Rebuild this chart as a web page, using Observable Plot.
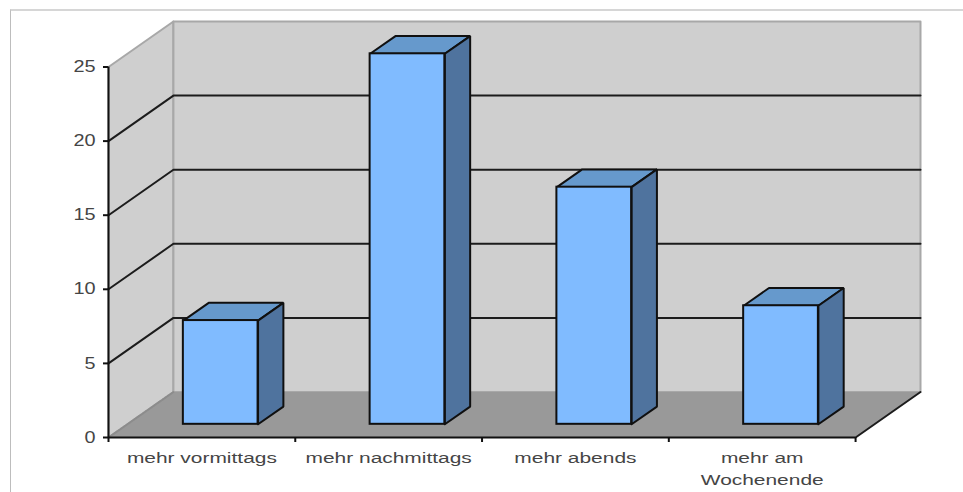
<!DOCTYPE html>
<html lang="de">
<head>
<meta charset="utf-8">
<title>Balkendiagramm</title>
<script src="https://cdn.jsdelivr.net/npm/d3@7"></script>
<script src="https://cdn.jsdelivr.net/npm/@observablehq/plot@0.6"></script>
<style>
  html, body { margin: 0; padding: 0; background: #fff; overflow: hidden; }
  #chart { position: relative; width: 963px; height: 492px; }
  #rahmen { position: absolute; left: 10px; top: 9px; right: 0; bottom: 0;
            border-left: 1px solid #bdbdbd; border-top: 2px solid #d6d6d6; }
  #chart svg { position: absolute; left: 0; top: 0; display: block; background: transparent; }
</style>
</head>
<body>
<div id="chart"><div id="rahmen"></div></div>
<script>
const categories = ["mehr vormittags", "mehr nachmittags", "mehr abends", "mehr am\nWochenende"];
const values = [7, 25, 16, 8];
const yTicks = [0, 5, 10, 15, 20, 25];
const gridValues = [5, 10, 15, 20];
const xBoundaries = [0, 1, 2, 3, 4];

// Oblique depth of the chart box, in data units of each axis
const depthX = 65 / 187;
const depthY = 45.5 / 14.82;
const yMax = 25;
const barHalfWidth = 0.2;
const barDepthFront = 0.29;
const barDepthBack = 0.68;

// Places a point (category position, value, depth 0..1) on the oblique plane
const at = (c, v, d) => ({x: c + d * depthX, y: v + d * depthY});
const poly = (id, corners) => [...corners, corners[0]].map(([c, v, d]) => ({id, ...at(c, v, d)}));

const n = categories.length;
const sideWall = poly("wand", [[0, 0, 0], [0, yMax, 0], [0, yMax, 1], [0, 0, 1]]);
const backWall = poly("rueckwand", [[0, 0, 1], [0, yMax, 1], [n, yMax, 1], [n, 0, 1]]);
const floor = poly("boden", [[0, 0, 0], [0, 0, 1], [n, 0, 1], [n, 0, 0]]);

const gridLines = gridValues.flatMap((v) => [
  {id: v, ...at(0, v, 0)}, {id: v, ...at(0, v, 1)}, {id: v, ...at(n, v, 1)}
]);

const bars = values.map((v, i) => ({
  left: i + 0.5 - barHalfWidth,
  right: i + 0.5 + barHalfWidth,
  v
}));
const tops = bars.flatMap((b, i) => poly(i, [
  [b.left, b.v, barDepthFront], [b.left, b.v, barDepthBack],
  [b.right, b.v, barDepthBack], [b.right, b.v, barDepthFront]
]));
const sides = bars.flatMap((b, i) => poly(i, [
  [b.right, 0, barDepthFront], [b.right, b.v, barDepthFront],
  [b.right, b.v, barDepthBack], [b.right, 0, barDepthBack]
]));
const fronts = bars.map((b) => {
  const p = at(b.left, 0, barDepthFront);
  const q = at(b.right, b.v, barDepthFront);
  return {x1: p.x, x2: q.x, y1: p.y, y2: q.y};
});

const wallStyle = {x: "x", y: "y", z: "id", curve: "linear", fill: "#cfcfcf", stroke: "#a8a8a8", strokeWidth: 2};
const barStroke = {stroke: "#101010", strokeWidth: 2, strokeLinejoin: "miter"};
const textColor = "#454545";

const chart = Plot.plot({
  width: 963,
  height: 492,
  marginLeft: 108,
  marginRight: 43,
  marginTop: 21,
  marginBottom: 55,
  style: {fontFamily: "'Liberation Sans', Arial, sans-serif", background: "transparent"},
  x: {domain: [0, n + depthX], axis: null},
  y: {domain: [0, yMax + depthY], axis: null},
  marks: [
    Plot.line(sideWall, wallStyle),
    Plot.line(backWall, wallStyle),
    Plot.line(floor, {x: "x", y: "y", z: "id", curve: "linear", fill: "#999999", stroke: "none"}),
    // Dashed-looking seam between side wall and floor
    Plot.line([at(0, 0, 0), at(0, 0, 1)], {x: "x", y: "y", curve: "linear", stroke: "#8c8c8c", strokeWidth: 2, strokeDasharray: "2 1"}),
    // Right floor edge
    Plot.line([at(n, 0, 0), at(n, 0, 1)], {x: "x", y: "y", curve: "linear", stroke: "#1c1c1c", strokeWidth: 2}),
    Plot.line(gridLines, {x: "x", y: "y", z: "id", curve: "linear", stroke: "#1c1c1c", strokeWidth: 2}),
    Plot.line(tops, {x: "x", y: "y", z: "id", curve: "linear", fill: "#6699cc", ...barStroke}),
    Plot.line(sides, {x: "x", y: "y", z: "id", curve: "linear", fill: "#4f739e", ...barStroke}),
    Plot.rect(fronts, {x1: "x1", x2: "x2", y1: "y1", y2: "y2", fill: "#80bbff", ...barStroke}),
    Plot.ruleX([0], {y1: 0, y2: yMax, stroke: "#111", strokeWidth: 2}),
    Plot.ruleY([0], {x1: 0, x2: n, stroke: "#111", strokeWidth: 2}),
    Plot.axisY({ticks: yTicks, tickSize: 5, tickPadding: 8, tickFormat: (d) => String(d), fontSize: 16, color: textColor, stroke: "#111", strokeWidth: 2, anchor: "left", label: null}),
    Plot.axisX({ticks: xBoundaries, tickSize: 5, tickFormat: () => "", stroke: "#111", strokeWidth: 2, anchor: "bottom", label: null}),
    Plot.text(categories, {
      x: (d, i) => i + 0.5,
      y: () => 0,
      text: (d) => d,
      dy: 10,
      lineAnchor: "top",
      lineHeight: 22 / 15.5,
      fontSize: 15.5,
      fill: textColor
    })
  ]
});

document.getElementById("chart").appendChild(chart);

// The labels use a horizontally widened face
const widen = (node, factor) => {
  node.setAttribute("textLength", (node.getComputedTextLength() * factor).toFixed(1));
  node.setAttribute("lengthAdjust", "spacingAndGlyphs");
};
chart.querySelectorAll("text").forEach((t) => {
  const spans = t.querySelectorAll("tspan");
  if (spans.length) spans.forEach((s) => widen(s, 1.35));
  else if (t.textContent) widen(t, Number(t.textContent) >= 0 ? 1.24 : 1.35);
});
</script>
</body>
</html>
